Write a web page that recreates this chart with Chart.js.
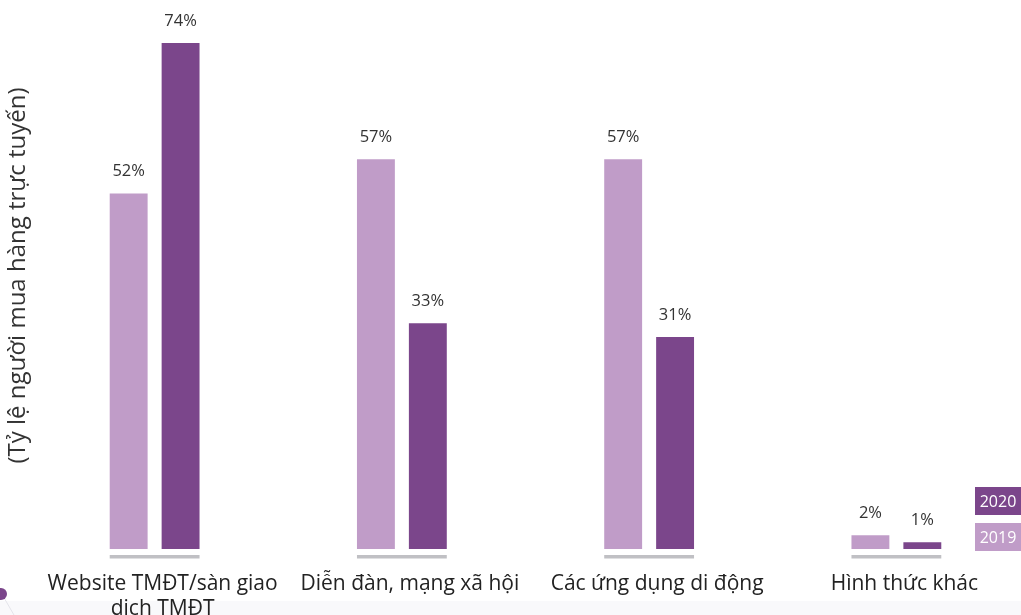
<!DOCTYPE html>
<html>
<head>
<meta charset="utf-8">
<script src="https://cdn.jsdelivr.net/npm/chart.js@4/dist/chart.umd.min.js"></script>
<style>
html,body{margin:0;padding:0;background:#fff}
#wrap{position:relative;width:1021px;height:615px;overflow:hidden;background:linear-gradient(#fff 0,#fff 601px,#f9f9fb 601px)}
</style>
</head>
<body>
<div id="wrap"><canvas id="chartKenh"></canvas></div>
<script>
var categories=[["Website TMĐT/sàn giao","dich TMĐT"],"Diễn đàn, mạng xã hội","Các ứng dụng di động","Hình thức khác"];
var years=["2019","2020"];
var values2019=[52,57,57,2];
var values2020=[74,33,31,1];
var yTitle="(Tỷ lệ người mua hàng trực tuyến)";
var colLight="#c09cc8",colDark="#7b468b";
var FONT="'Open Sans', sans-serif";

// value labels over each bar + grey base line under each group
var barDecor={
  id:"barDecor",
  afterDatasetsDraw:function(chart){
    var ctx=chart.ctx,ca=chart.chartArea;
    var m0=chart.getDatasetMeta(0),m1=chart.getDatasetMeta(1);
    ctx.save();
    ctx.font="16.5px "+FONT;
    ctx.fillStyle="#333";
    ctx.textAlign="center";
    ctx.textBaseline="alphabetic";
    [m0,m1].forEach(function(m,di){
      m.data.forEach(function(b,i){
        ctx.fillText(chart.data.datasets[di].data[i]+"%",b.x,b.y-17);
      });
    });
    ctx.fillStyle="#c0c0c4";
    for(var i=0;i<m0.data.length;i++){
      var a=m0.data[i],b=m1.data[i];
      var x1=a.x-a.width/2,x2=b.x+b.width/2;
      ctx.fillRect(x1,ca.bottom+6,x2-x1,3.5);
    }
    ctx.restore();
  }
};

// boxed year legend on the right
var yearLegend={
  id:"yearLegend",
  afterDraw:function(chart){
    var ctx=chart.ctx,ca=chart.chartArea;
    var ds=chart.data.datasets;
    var w=46,h=28,x=chart.width-w;
    var ys=[ca.bottom-26,ca.bottom-62];
    ctx.save();
    ctx.font="16px "+FONT;
    ctx.textAlign="center";
    ctx.textBaseline="middle";
    ds.forEach(function(d,i){
      ctx.fillStyle=d.backgroundColor;
      ctx.fillRect(x,ys[i],w,h);
      ctx.fillStyle="#fff";
      ctx.fillText(d.label,x+w/2,ys[i]+h/2+1);
    });
    // small dot in the corner
    ctx.strokeStyle="#e4e4ea";
    ctx.lineWidth=1;
    ctx.beginPath();ctx.moveTo(3,596);ctx.lineTo(14,615);ctx.stroke();
    ctx.fillStyle="#7b468b";
    ctx.beginPath();ctx.arc(1,594,6,0,Math.PI*2);ctx.fill();
    ctx.restore();
  }
};

new Chart(document.getElementById("chartKenh"),{
  type:"bar",
  data:{
    labels:categories,
    datasets:[
      {label:years[0],data:values2019,backgroundColor:colLight},
      {label:years[1],data:values2020,backgroundColor:colDark}
    ]
  },
  options:{
    responsive:true,
    maintainAspectRatio:false,
    animation:false,
    categoryPercentage:0.42,
    barPercentage:0.73,
    layout:{padding:{top:2,right:1,left:0,bottom:0}},
    plugins:{legend:{display:false},tooltip:{enabled:false}},
    scales:{
      x:{
        grid:{display:false},
        border:{display:false},
        ticks:{color:"#222",font:{family:FONT,size:21},padding:14,labelOffset:8,maxRotation:0,autoSkip:false},
        afterFit:function(s){s.height=66;}
      },
      y:{
        min:0,max:80,
        grid:{display:false},
        border:{display:false},
        ticks:{display:false},
        title:{display:true,text:yTitle,color:"#333",font:{family:FONT,size:24},padding:{top:4,bottom:0}},
        afterFit:function(s){s.width=31;}
      }
    }
  },
  plugins:[barDecor,yearLegend]
});
</script>
</body>
</html>
